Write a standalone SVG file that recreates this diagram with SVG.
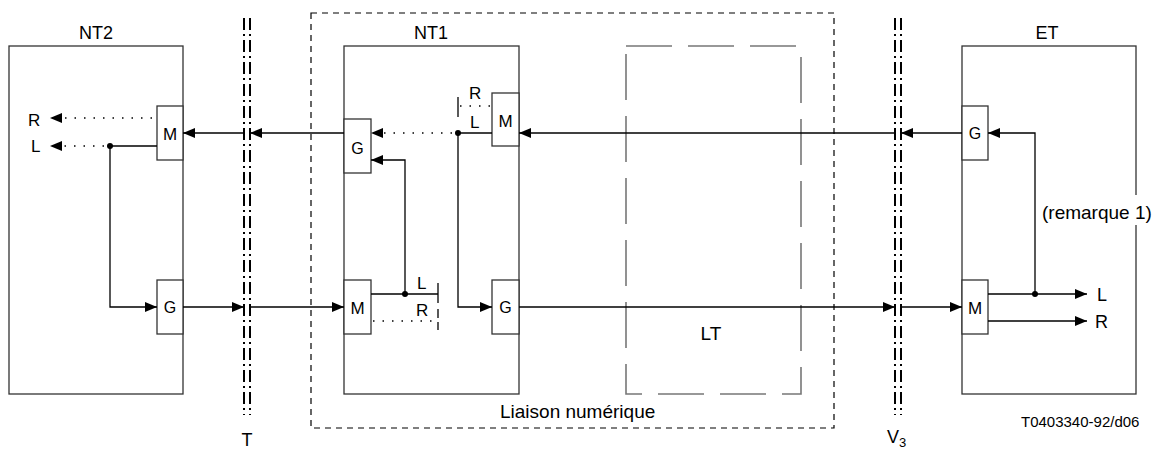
<svg xmlns="http://www.w3.org/2000/svg" width="1155" height="450" viewBox="0 0 1155 450">
<style>
text{font-family:"Liberation Sans",Arial,sans-serif;fill:#000}
.t{font-size:18px;text-anchor:middle}
.s{font-size:17px}
.g{font-size:16px;text-anchor:middle}
.m{font-size:17px;text-anchor:middle}
.box{fill:#fff;stroke:#333;stroke-width:1.3}
.c{fill:none;stroke:#000;stroke-width:1.3}
.d{fill:none;stroke:#000;stroke-width:1.3;stroke-dasharray:1.5 8}
.if{stroke:#000;stroke-width:2;stroke-dasharray:12 4 2 4}
.lk{fill:none;stroke:#000;stroke-width:1.2;stroke-dasharray:6 5}
.lt{fill:none;stroke:#777;stroke-width:1.6;stroke-dasharray:46 16}
</style>
<defs>
<marker id="a" markerUnits="userSpaceOnUse" markerWidth="12" markerHeight="10" refX="12" refY="5" orient="auto">
<path d="M0,0 L12,5 L0,10 z" fill="#000"/>
</marker>
</defs>

<g id="liaison">
<rect class="lk" x="311" y="13" width="523" height="415"/>
<text x="500" y="418" style="font-size:19px">Liaison numérique</text>
</g>

<g id="NT2">
<rect class="box" x="9" y="46" width="174" height="348"/>
<text class="t" x="96" y="39">NT2</text>
<rect class="box" x="157" y="106" width="26" height="54"/>
<text class="m" x="170" y="140">M</text>
<rect class="box" x="157" y="280" width="26" height="54"/>
<text class="g" x="170" y="313">G</text>
<text class="s" x="28" y="126">R</text>
<text class="s" x="31" y="152">L</text>
</g>

<g id="NT1">
<rect class="box" x="344" y="46" width="175" height="348"/>
<text class="t" x="431" y="39">NT1</text>
<rect class="box" x="344" y="119" width="27" height="54"/>
<text class="g" x="357.5" y="154">G</text>
<rect class="box" x="492" y="93" width="27" height="53"/>
<text class="m" x="505.5" y="127">M</text>
<rect class="box" x="344" y="280" width="27" height="54"/>
<text class="m" x="357.5" y="314">M</text>
<rect class="box" x="492" y="280" width="27" height="54"/>
<text class="g" x="505.5" y="313">G</text>
<text class="s" x="469" y="99">R</text>
<text class="s" x="470" y="128">L</text>
<text class="s" x="417" y="289">L</text>
<text class="s" x="416" y="316">R</text>
</g>

<g id="LT">
<rect class="lt" x="626" y="46" width="175" height="348"/>
<text class="t" x="711" y="340" style="font-size:19px">LT</text>
</g>

<g id="ET">
<rect class="box" x="962" y="46" width="174" height="348"/>
<text class="t" x="1047" y="39">ET</text>
<rect class="box" x="962" y="106" width="26" height="54"/>
<text class="g" x="975" y="139">G</text>
<rect class="box" x="962" y="280" width="26" height="54"/>
<text class="m" x="975" y="314">M</text>
<text class="s" x="1097" y="301" style="font-size:18px">L</text>
<text class="s" x="1095" y="328" style="font-size:18px">R</text>
<rect x="1040" y="195" width="115" height="30" fill="#fff"/>
<text x="1042" y="219" style="font-size:19px">(remarque 1)</text>
</g>

<g id="T">
<line class="if" x1="244" y1="18" x2="244" y2="415"/>
<line class="if" x1="250" y1="18" x2="250" y2="415"/>
<text class="t" x="247" y="446">T</text>
</g>

<g id="V3">
<line class="if" x1="895" y1="18" x2="895" y2="415"/>
<line class="if" x1="901" y1="18" x2="901" y2="415"/>
<text x="887" y="443" style="font-size:18px">V<tspan dy="4" style="font-size:13px">3</tspan></text>
</g>

<g id="connectors">
<path class="c" d="M962,133 H901" marker-end="url(#a)"/>
<path class="c" d="M895,133 H519" marker-end="url(#a)"/>
<path class="c" d="M344,133 H250" marker-end="url(#a)"/>
<path class="c" d="M244,133 H183" marker-end="url(#a)"/>
<path class="d" d="M152,118 H50" marker-end="url(#a)"/>
<path class="c" d="M157,146 H110"/>
<path class="d" d="M104,146 H50" marker-end="url(#a)"/>
<path class="c" d="M110,146 V307 H157" marker-end="url(#a)"/>
<circle cx="110" cy="146" r="3"/>
<path class="c" d="M183,307 H244" marker-end="url(#a)"/>
<path class="c" d="M250,307 H344" marker-end="url(#a)"/>
<path class="c" d="M371,294 H438"/>
<path class="c" d="M405,294 V160 H371" marker-end="url(#a)"/>
<circle cx="405" cy="294" r="3"/>
<path class="d" d="M373,321 H432"/>
<path class="c" d="M438,283 V303"/>
<path class="c" d="M438,309 V330" style="stroke-dasharray:9 4"/>
<path class="c" d="M492,133 H458"/>
<path class="d" d="M452,133 H371" marker-end="url(#a)"/>
<circle cx="458" cy="133" r="3"/>
<path class="d" d="M490,106 H460"/>
<path class="c" d="M458,97 V117"/>
<path class="c" d="M458,133 V307 H492" marker-end="url(#a)"/>
<path class="c" d="M519,307 H895" marker-end="url(#a)"/>
<path class="c" d="M901,307 H962" marker-end="url(#a)"/>
<path class="c" d="M988,294 H1087" marker-end="url(#a)"/>
<path class="c" d="M988,321 H1087" marker-end="url(#a)"/>
<path class="c" d="M1035,294 V133 H988" marker-end="url(#a)"/>
<circle cx="1035" cy="294" r="3"/>
<text x="1021" y="427" style="font-size:15px">T0403340-92/d06</text>
</g>
</svg>
